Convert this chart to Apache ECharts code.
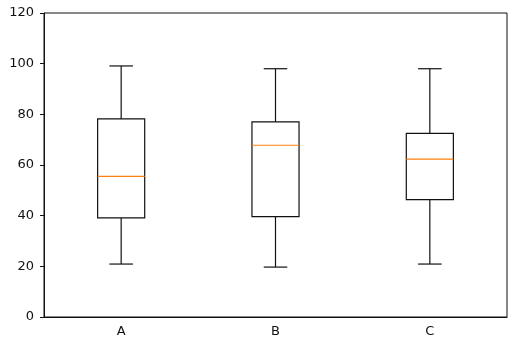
<!DOCTYPE html>
<html>
<head>
<meta charset="utf-8">
<script src="https://cdn.jsdelivr.net/npm/echarts@6/dist/echarts.min.js"></script>
<style>
  html, body { margin: 0; padding: 0; background: #fff; }
  #chart { width: 528px; height: 351px; }
</style>
</head>
<body>
<div id="chart"></div>
<script>
// values
const categories = ["A", "B", "C"];
const whiskerLow = [20.9, 19.7, 20.9];
const q1 = [39.1, 39.6, 46.3];
const medians = [55.5, 67.8, 62.3];
const q3 = [78.2, 77.0, 72.5];
const whiskerHigh = [99.1, 98.0, 98.0];
const yTicks = [0, 20, 40, 60, 80, 100, 120];

const boxData = categories.map((c, i) => [i, whiskerLow[i], q1[i], medians[i], q3[i], whiskerHigh[i]]);

const chart = echarts.init(document.getElementById("chart"));

function renderBox(params, api) {
  const idx = api.value(0);
  const band = api.size([1, 0])[0];
  const boxW = band * 0.305;
  const capW = boxW / 2;
  const pLow = api.coord([idx, api.value(1)]);
  const pQ1 = api.coord([idx, api.value(2)]);
  const pMed = api.coord([idx, api.value(3)]);
  const pQ3 = api.coord([idx, api.value(4)]);
  const pHigh = api.coord([idx, api.value(5)]);
  const x = pQ1[0];
  const black = { stroke: "#111", lineWidth: 1.2, fill: null };
  return {
    type: "group",
    children: [
      { type: "line", shape: { x1: x, y1: pQ1[1], x2: x, y2: pLow[1] }, style: black },
      { type: "line", shape: { x1: x, y1: pQ3[1], x2: x, y2: pHigh[1] }, style: black },
      { type: "line", shape: { x1: x - capW / 2, y1: pLow[1], x2: x + capW / 2, y2: pLow[1] }, style: black },
      { type: "line", shape: { x1: x - capW / 2, y1: pHigh[1], x2: x + capW / 2, y2: pHigh[1] }, style: black },
      { type: "rect", shape: { x: x - boxW / 2, y: pQ3[1], width: boxW, height: pQ1[1] - pQ3[1] }, style: black },
      { type: "line", shape: { x1: x - boxW / 2, y1: pMed[1], x2: x + boxW / 2, y2: pMed[1] }, style: { stroke: "#ff7f0e", lineWidth: 1.2 } }
    ]
  };
}

const option = {
  animation: false,
  grid: {
    left: 44,
    right: 21,
    top: 13,
    bottom: 34,
    show: true,
    borderColor: "#111",
    borderWidth: 1
  },
  xAxis: {
    type: "category",
    data: categories,
    boundaryGap: true,
    axisLine: { lineStyle: { color: "#111", width: 1 } },
    axisTick: { alignWithLabel: true, length: 4, lineStyle: { color: "#111" } },
    axisLabel: { color: "#111", fontFamily: "DejaVu Sans", fontSize: 13, margin: 8 },
    splitLine: { show: false }
  },
  yAxis: {
    type: "value",
    min: yTicks[0],
    max: yTicks[yTicks.length - 1],
    interval: 20,
    axisLine: { show: true, lineStyle: { color: "#111", width: 1 } },
    axisTick: { show: true, length: 4, lineStyle: { color: "#111" } },
    axisLabel: { color: "#111", fontFamily: "DejaVu Sans", fontSize: 13, margin: 10 },
    splitLine: { show: false }
  },
  series: [
    {
      type: "custom",
      renderItem: renderBox,
      encode: { x: 0, y: [1, 2, 3, 4, 5] },
      data: boxData
    }
  ]
};

chart.setOption(option);
</script>
</body>
</html>
